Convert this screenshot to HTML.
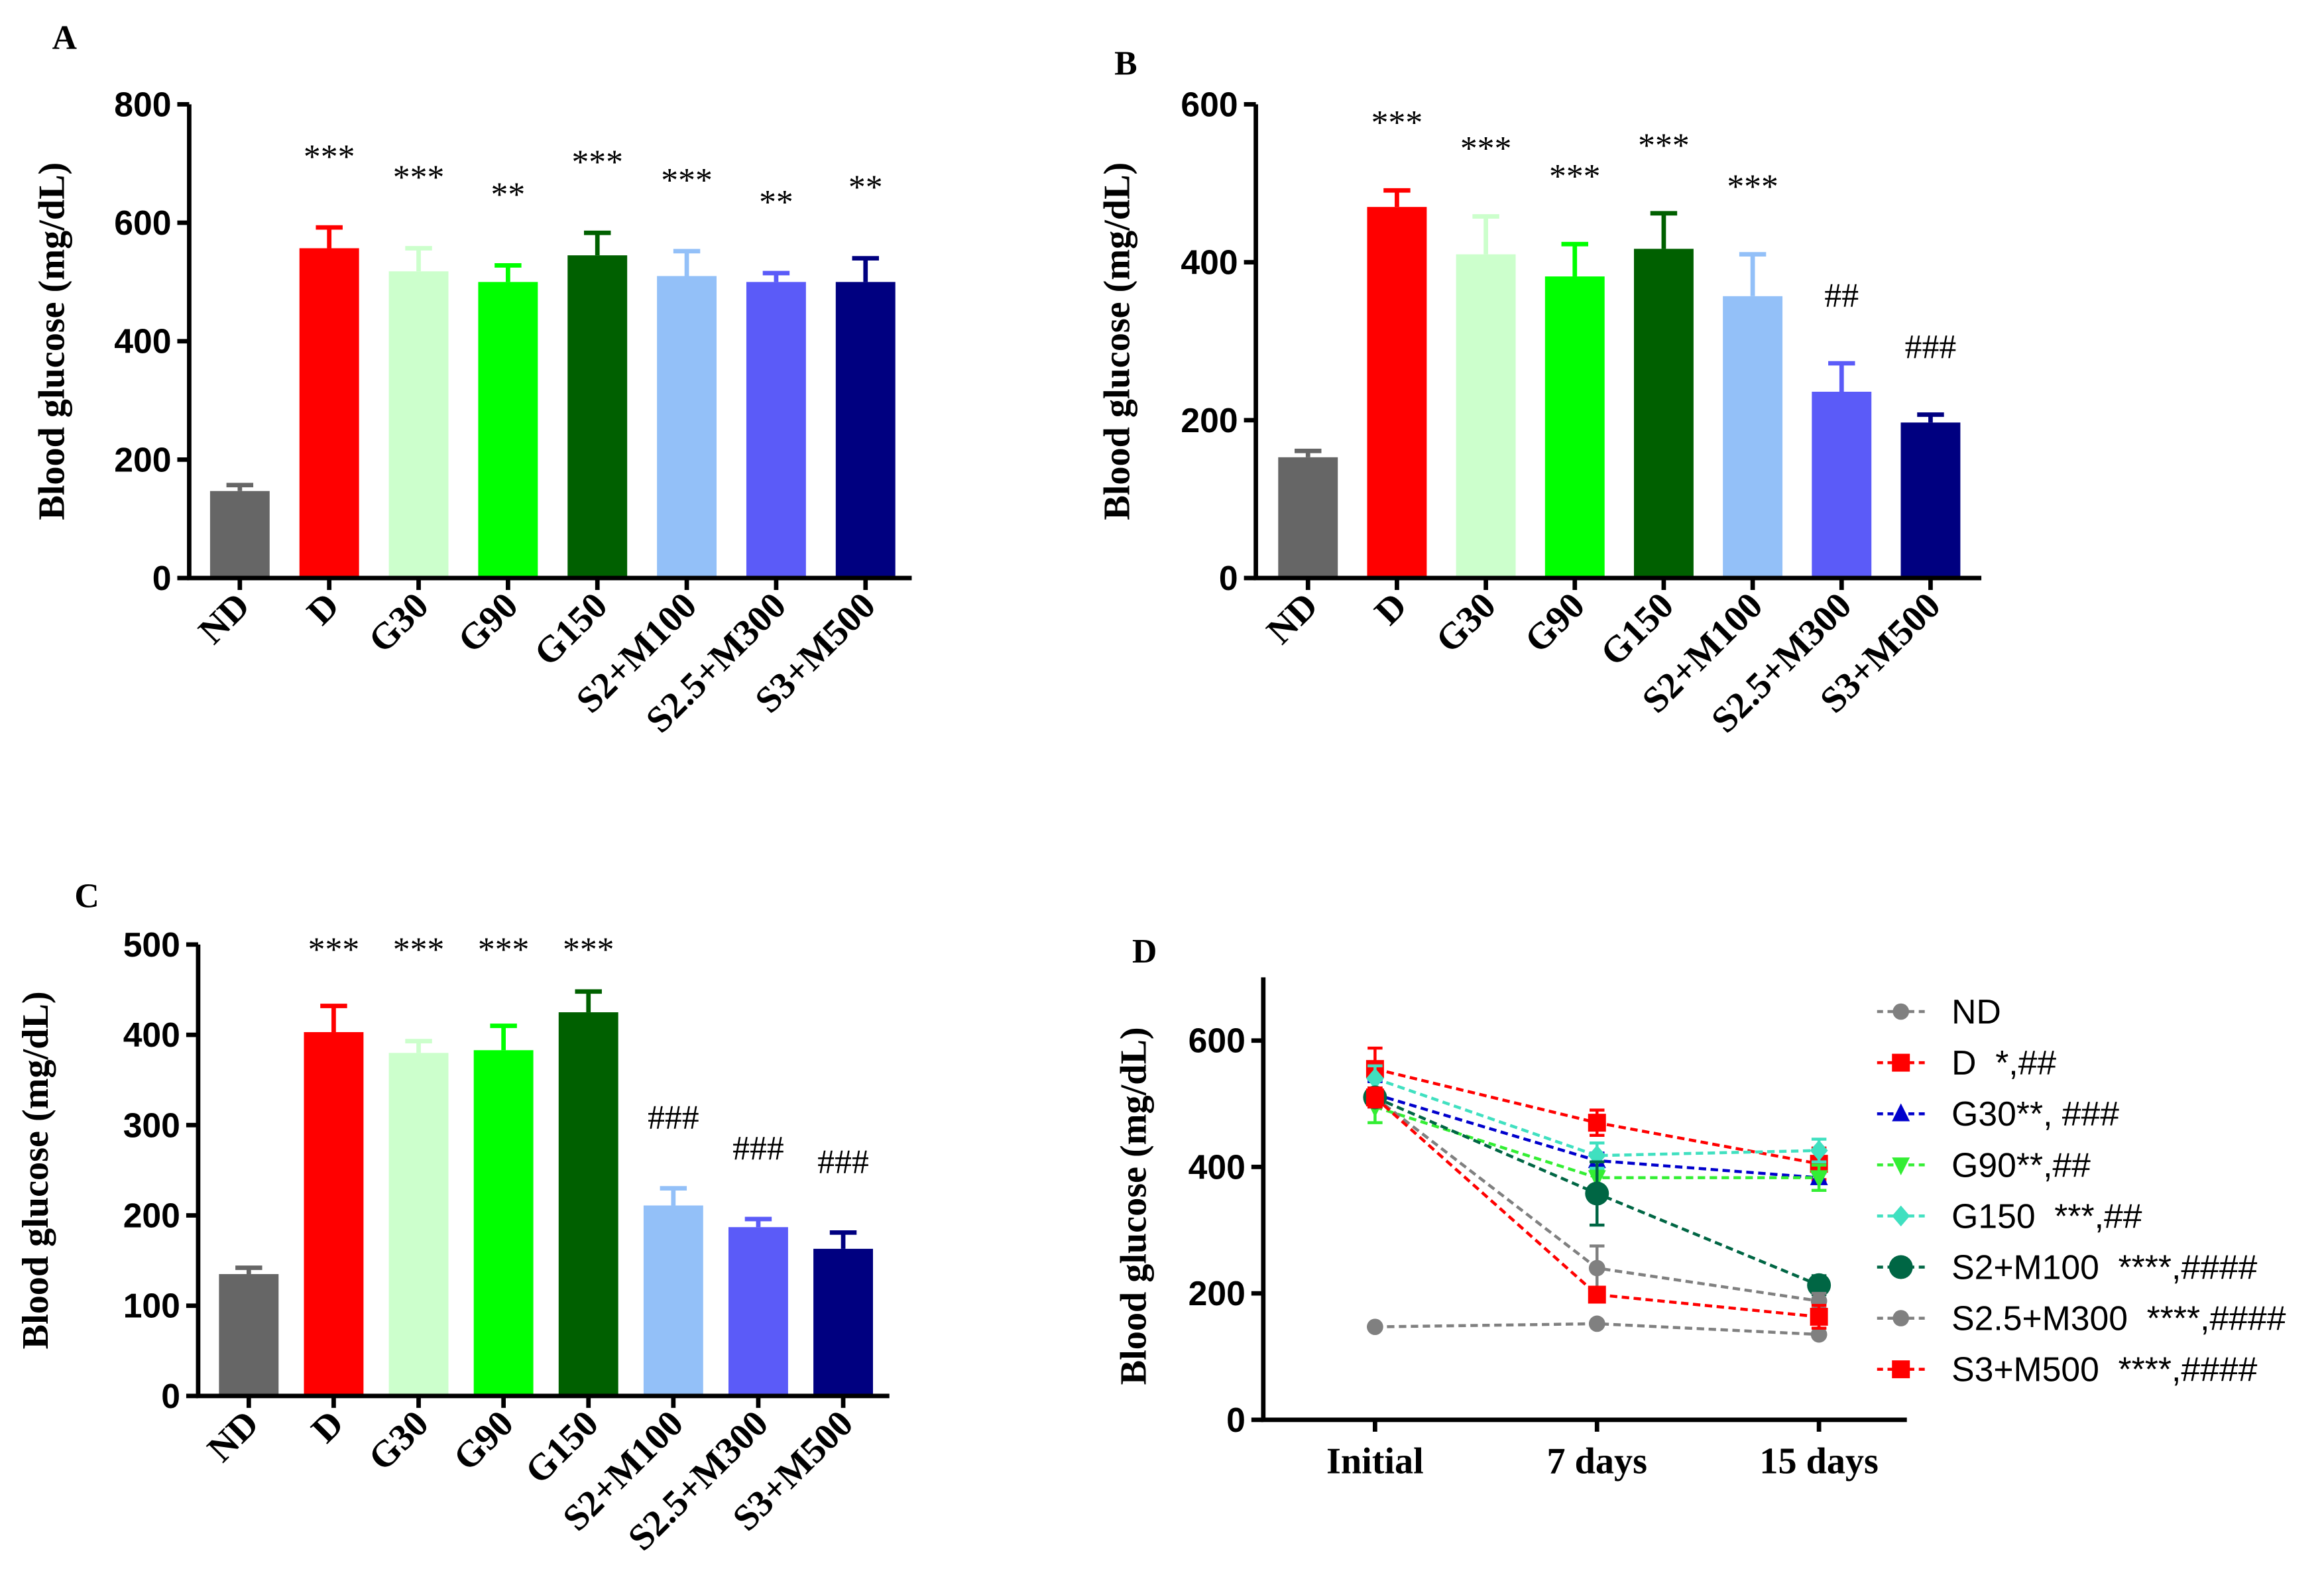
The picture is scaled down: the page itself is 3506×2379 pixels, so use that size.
<!DOCTYPE html>
<html><head><meta charset="utf-8"><style>
html,body{margin:0;padding:0;background:#fff}
svg{display:block}
.tk{font-family:"Liberation Sans",sans-serif;font-weight:bold;font-size:23px}
.cat{font-family:"Liberation Serif",serif;font-weight:bold;font-size:25px}
.yt{font-family:"Liberation Serif",serif;font-weight:bold;font-size:25px}
.an{font-family:"Liberation Serif",serif;font-size:23px}
.pl{font-family:"Liberation Serif",serif;font-weight:bold;font-size:23px}
.lg{font-family:"Liberation Sans",sans-serif;font-size:23px;white-space:pre}
</style></head><body>
<svg id="s" width="3506" height="2379" viewBox="0 0 1560 1058.5" xmlns="http://www.w3.org/2000/svg"></svg>
<script>
const categories=["ND","D","G30","G90","G150","S2+M100","S2.5+M300","S3+M500"];
const colors=["#666666","#ff0000","#ccffcc","#00ff00","#006000","#93c0f8","#5b5bf8","#000080"];
const aVals=[147,557,518,500,545,510,500,500];
const aErr=[10,35,39,28,38,42,15,40];
const aAnn=["","***","***","**","***","***","**","**"];
const aTicks=[0,200,400,600,800];
const bVals=[153,470,410,382,417,357,236,197];
const bErr=[8,21,48,41,45,53,36,10];
const bAnn=["","***","***","***","***","***","##","###"];
const bTicks=[0,200,400,600];
const cVals=[135,403,380,383,425,211,187,163];
const cErr=[7,29,13,27,23,19,9,18];
const cAnn=["","***","***","***","***","###","###","###"];
const cTicks=[0,100,200,300,400,500];
const dX=["Initial","7 days","15 days"];
const dTicks=[0,200,400,600];
const dND=[147,152,135];
const dD=[555,470,405];
const dG30=[515,410,383];
const dG90=[495,383,383];
const dG150=[540,418,426];
const dS2=[510,358,213];
const dS25=[510,240,188];
const dS3=[510,198,163];
const dErr=[[0,0,0],[33,20,25],[20,12,8],[25,12,20],[20,20,18],[15,50,15],[15,35,12],[15,10,18]];
const dLegend=["ND","D  *,##","G30**, ###","G90**,##","G150  ***,##","S2+M100  ****,####","S2.5+M300  ****,####","S3+M500  ****,####"];
const S=document.getElementById('s');const NS="http://www.w3.org/2000/svg";
function el(t,a,p){const e=document.createElementNS(NS,t);for(const k in a)e.setAttribute(k,a[k]);(p||S).appendChild(e);return e;}
function txt(s,a,p){const e=el('text',a,p);e.textContent=s;return e;}
function barPanel(name,vals,err,ann,ticks,x0,x1,yTop,yBot,max,c0,step,letter,lx,ly,ty,annY){
 const g=el('g',{});
 const y=v=>yBot-(v/max)*(yBot-yTop);
 const L=txt(letter,{x:lx,y:ly,class:'pl'},g);
 vals.forEach((v,i)=>{const cx=c0+i*step;
  const ln=el('line',{x1:cx,x2:cx,y1:y(v),y2:y(v+err[i]),stroke:colors[i],'stroke-width':3},g);
  
  const cap=el('line',{x1:cx-9,x2:cx+9,y1:y(v+err[i]),y2:y(v+err[i]),stroke:colors[i],'stroke-width':3},g);
  
  const r=el('rect',{x:cx-20,y:y(v),width:40,height:yBot-y(v),fill:colors[i]},g);
  
  if(ann[i]){const a=txt(ann[i],{x:cx,y:annY(i,y,v,err[i]),'text-anchor':'middle',class:'an'},g);}
  const t=txt(categories[i],{class:'cat','text-anchor':'end',transform:`translate(${cx+8},${yBot+20}) rotate(-45)`},g);
  
  el('line',{x1:cx,x2:cx,y1:yBot,y2:yBot+8,stroke:'#000','stroke-width':3},g);
 });
 ticks.forEach(v=>{el('line',{x1:x0-8,x2:x0,y1:y(v),y2:y(v),stroke:'#000','stroke-width':3},g);
  const t=txt(v,{x:x0-12,y:y(v)+8,'text-anchor':'end',class:'tk'},g);});
 const ax=el('path',{d:`M${x0},${yTop} V${yBot} H${x1}`,fill:'none',stroke:'#000','stroke-width':3},g);
 
 const yt=txt('Blood glucose (mg/dL)',{class:'yt','text-anchor':'middle',transform:`translate(${ty},${(yTop+yBot)/2}) rotate(-90)`},g);
 
}
barPanel('a',aVals,aErr,aAnn,aTicks,127,612,70,388,800,161,60,'A',35,33,43,(i,y,v,e)=>y(v+e)-40);
barPanel('b',bVals,bErr,bAnn,bTicks,843,1330,70,388,600,878,59.7,'B',748,50,758,(i,y,v,e)=>y(v+e)-38);
barPanel('c',cVals,cErr,cAnn,cTicks,133,597,634,937,500,167,57,'C',50,609,32,(i,y,v,e)=>i<5?645:y(v+e)-40);
(function(){
 const g=el('g',{});
 const x0=848,x1=1280,yBot=953,yTop=656,max=700;const y=v=>yBot-v/max*(yBot-yTop);
 const xs=[923,1072,1221];
 const L=txt('D',{x:760,y:646,class:'pl'},g);
 const series=[dND,dD,dG30,dG90,dG150,dS2,dS25,dS3];
 const cols=["#808080","#ff0000","#0000cc","#33ee33","#40e0c0","#006644","#808080","#ff0000"];
 const shapes=["c","s","t","v","d","C","c","s"];
 function mark(sh,cx,cy,c,p){
  if(sh=="c")return el('circle',{cx,cy,r:5.5,fill:c},p);
  if(sh=="C")return el('circle',{cx,cy,r:8,fill:c},p);
  if(sh=="s")return el('rect',{x:cx-6,y:cy-6,width:12,height:12,fill:c},p);
  if(sh=="t")return el('path',{d:`M${cx},${cy-7}L${cx+6},${cy+5}L${cx-6},${cy+5}Z`,fill:c},p);
  if(sh=="v")return el('path',{d:`M${cx},${cy+7}L${cx+6},${cy-5}L${cx-6},${cy-5}Z`,fill:c},p);
  return el('path',{d:`M${cx},${cy-7}L${cx+6},${cy}L${cx},${cy+7}L${cx-6},${cy}Z`,fill:c},p);
 }
 dTicks.forEach(v=>{el('line',{x1:x0-8,x2:x0,y1:y(v),y2:y(v),stroke:'#000','stroke-width':3},g);
  const t=txt(v,{x:x0-12,y:y(v)+8,'text-anchor':'end',class:'tk'},g);});
 dX.forEach((s,i)=>{el('line',{x1:xs[i],x2:xs[i],y1:yBot,y2:yBot+8,stroke:'#000','stroke-width':3},g);
  const t=txt(s,{x:xs[i],y:yBot+36,'text-anchor':'middle',class:'cat'},g);});
 series.forEach((vals,k)=>{const sg=el('g',{},g);
  vals.forEach((v,i)=>{const e=dErr[k][i];if(e){el('line',{x1:xs[i],x2:xs[i],y1:y(v-e),y2:y(v+e),stroke:cols[k],'stroke-width':2},sg);
    el('line',{x1:xs[i]-5,x2:xs[i]+5,y1:y(v+e),y2:y(v+e),stroke:cols[k],'stroke-width':2},sg);el('line',{x1:xs[i]-5,x2:xs[i]+5,y1:y(v-e),y2:y(v-e),stroke:cols[k],'stroke-width':2},sg);}});
  const pl=el('polyline',{points:vals.map((v,i)=>xs[i]+','+y(v)).join(' '),fill:'none',stroke:cols[k],'stroke-width':2,'stroke-dasharray':'5,3'},sg);
  
  vals.forEach((v,i)=>{const m=mark(shapes[k],xs[i],y(v),cols[k],sg);});
  const ly=679+k*34.3;
  const lg=el('g',{},g);
  el('line',{x1:1260,x2:1292,y1:ly,y2:ly,stroke:cols[k],'stroke-width':2,'stroke-dasharray':'4,3'},lg);
  mark(shapes[k],1276,ly,cols[k],lg);
  txt(dLegend[k],{x:1310,y:ly+8,class:'lg','xml:space':'preserve'},lg);
 });
 const ax=el('path',{d:`M${x0},${yTop} V${yBot} H${x1}`,fill:'none',stroke:'#000','stroke-width':3},g);
 
 const yt=txt('Blood glucose (mg/dL)',{class:'yt','text-anchor':'middle',transform:`translate(769,${(yTop+yBot)/2+5}) rotate(-90)`},g);
 
})();
</script>
</body></html>
